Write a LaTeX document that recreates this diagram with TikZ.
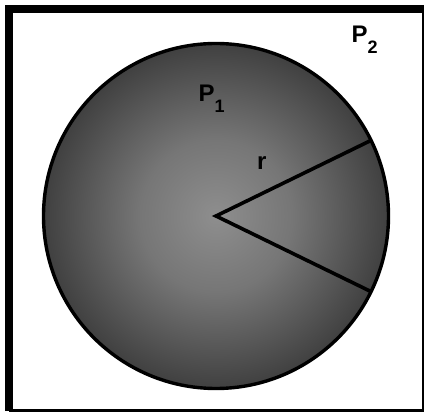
\documentclass[tikz,border=0pt]{standalone}
\usepackage{fontspec}
\setmainfont{Liberation Sans}
\usepackage{xcolor}
\usepackage{tikz}
\definecolor{binnen}{RGB}{142,142,142}
\definecolor{midden}{RGB}{118,118,118}
\definecolor{buiten}{RGB}{64,64,64}
\pgfdeclareradialshading{bolschaduw}{\pgfpoint{0bp}{0bp}}{color(0bp)=(binnen); color(11bp)=(midden); color(25bp)=(buiten); color(50bp)=(buiten)}
\newcommand{\sublab}[1]{\raisebox{-11pt}{\fontsize{18}{20}\selectfont #1}}

\begin{document}
\begin{tikzpicture}[x=1pt, y=1pt, every node/.style={font=\fontsize{24}{26}\selectfont\bfseries}]
            \useasboundingbox (0,0) rectangle (424,416);
            % kader
            \draw[line width=8pt] (9,5) -- (9,407) -- (424,407);
            \draw[line width=2.5pt] (9,5.5) -- (423,5.5) -- (423,407);
            % bol met middelpunt
            \node[circle, draw, line width=3.4pt, inner sep=0pt, outer sep=0pt,
                minimum size=345pt, shading=bolschaduw]
                (bol) at (216,200) {};
            \coordinate (m) at (bol.center);
            % straal r
            \draw[line width=3.6pt] (bol.26.5) -- (m) -- (bol.-26.5);
            % labels
            \node[anchor=base west, inner sep=0pt] (p1) at (198.5,314) {P\sublab{1}};
            \node[anchor=base west, inner sep=0pt] (p2) at (351.5,373) {P\sublab{2}};
            \node[anchor=base west, inner sep=0pt] (r) at (257,246) {r};
        \end{tikzpicture}
\end{document}
